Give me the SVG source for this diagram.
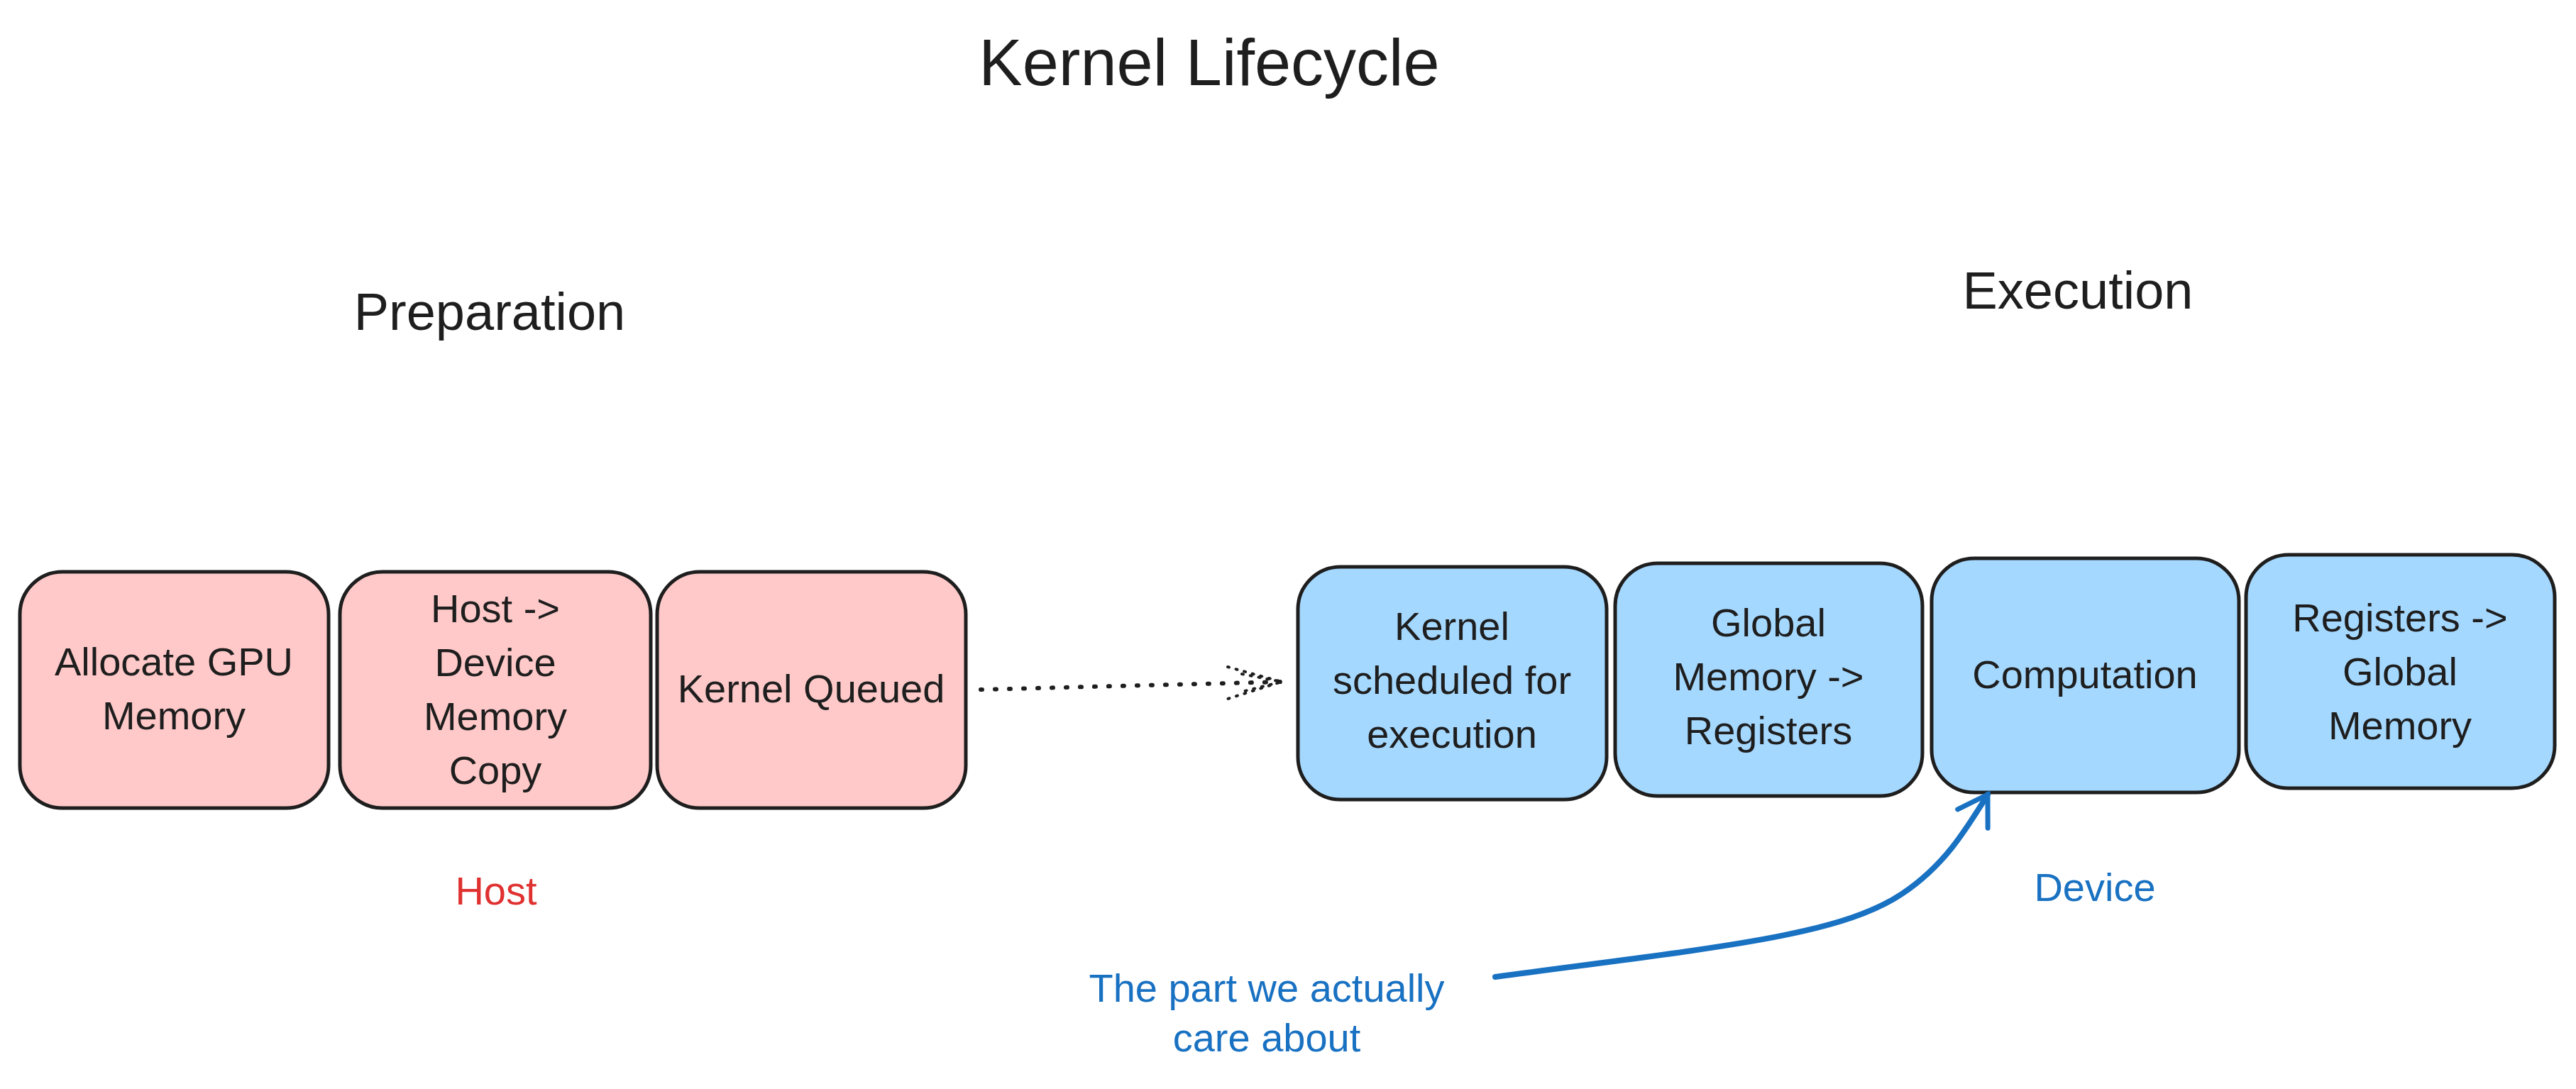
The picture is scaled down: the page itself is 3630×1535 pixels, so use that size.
<svg xmlns="http://www.w3.org/2000/svg" width="3630" height="1535" viewBox="0 0 3630 1535">
<style>
text{font-family:"Liberation Sans",sans-serif;fill:#1e1e1e;text-anchor:middle}
.t{font-size:56px}
.h{font-size:74px}
.host rect{fill:#ffc9c9;stroke:#1e1e1e;stroke-width:5}
.dev rect{fill:#a5d8ff;stroke:#1e1e1e;stroke-width:5}
</style>
<defs>
<marker id="ah" markerWidth="12" markerHeight="12" refX="10" refY="6" orient="auto" markerUnits="userSpaceOnUse" viewBox="0 0 12 12"><path d="M0,0 L10,6 L0,12" fill="none" stroke="#1e1e1e" stroke-width="1.5"/></marker>
<marker id="ab" markerWidth="60" markerHeight="60" refX="50" refY="30" orient="auto" markerUnits="userSpaceOnUse"><path d="M10,5 L50,30 L10,55" fill="none" stroke="#1971c2" stroke-width="7" stroke-linecap="round"/></marker>
</defs>
<rect width="3630" height="1535" fill="#fff"/>
<text x="1704" y="120" style="font-size:92px">Kernel Lifecycle</text>
<text x="690" y="465" class="h">Preparation</text>
<text x="2928" y="435" class="h">Execution</text>
<g id="n1" class="host"><rect x="28" y="806" width="435" height="333" rx="60"/><text class="t" x="245" y="952">Allocate GPU</text><text class="t" x="245" y="1028">Memory</text></g>
<g id="n2" class="host"><rect x="479" y="806" width="438" height="333" rx="60"/><text class="t" x="698" y="877">Host -&gt;</text><text class="t" x="698" y="953">Device</text><text class="t" x="698" y="1029">Memory</text><text class="t" x="698" y="1105">Copy</text></g>
<g id="n3" class="host"><rect x="926" y="806" width="435" height="333" rx="60"/><text class="t" x="1143" y="990">Kernel Queued</text></g>
<g id="n4" class="dev"><rect x="1829" y="799" width="435" height="328" rx="60"/><text class="t" x="2046" y="902">Kernel</text><text class="t" x="2046" y="978">scheduled for</text><text class="t" x="2046" y="1054">execution</text></g>
<g id="n5" class="dev"><rect x="2276" y="794" width="433" height="328" rx="60"/><text class="t" x="2492" y="897">Global</text><text class="t" x="2492" y="973">Memory -&gt;</text><text class="t" x="2492" y="1049">Registers</text></g>
<g id="n6" class="dev"><rect x="2722" y="787" width="433" height="330" rx="60"/><text class="t" x="2938" y="970">Computation</text></g>
<g id="n7" class="dev"><rect x="3165" y="782" width="435" height="329" rx="60"/><text class="t" x="3382" y="890">Registers -&gt;</text><text class="t" x="3382" y="966">Global</text><text class="t" x="3382" y="1042">Memory</text></g>
<text x="699" y="1275" style="font-size:56px;fill:#e03131">Host</text>
<text x="2952" y="1270" style="font-size:56px;fill:#1971c2">Device</text>
<text x="1785" y="1412" style="font-size:56px;fill:#1971c2">The part we actually</text>
<text x="1785" y="1482" style="font-size:56px;fill:#1971c2">care about</text>
<g id="connectors">
<path d="M1382,972 L1806,961" fill="none" stroke="#1e1e1e" stroke-width="6" stroke-dasharray="2 18" stroke-linecap="round"/>
<path d="M1730,940 L1806,961 L1730,985 M1750,950 L1806,961 L1750,975" fill="none" stroke="#1e1e1e" stroke-width="4" stroke-dasharray="2 10" stroke-linecap="round"/>
<path d="M2107,1377 C2420,1335 2590,1320 2680,1260 C2740,1220 2770,1170 2801,1120" fill="none" stroke="#1971c2" stroke-width="8" stroke-linecap="round" marker-end="url(#ab)"/>
</g>
</svg>
